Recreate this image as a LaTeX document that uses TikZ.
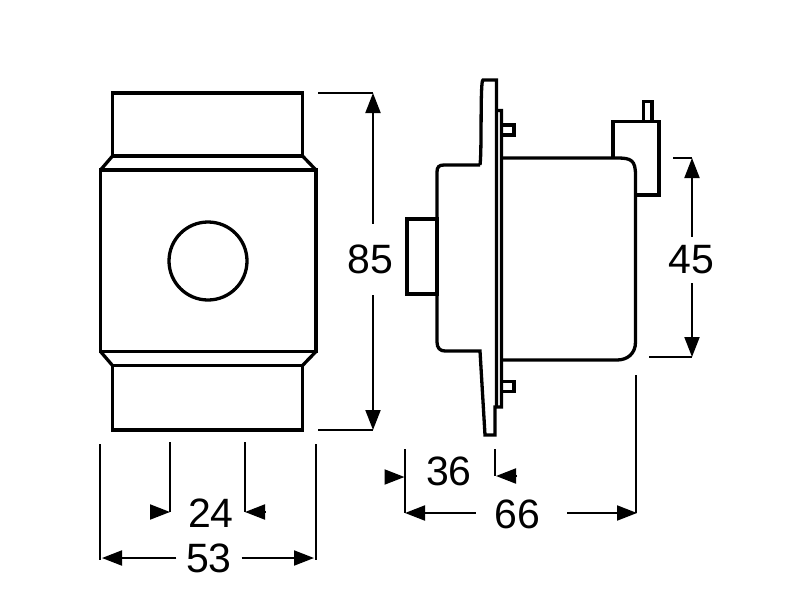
\documentclass[tikz,border=0pt]{standalone}
\usepackage{fontspec}
\setmainfont{Liberation Sans}
\usetikzlibrary{arrows.meta}
\tikzset{
	outline/.style={line width=3.3pt, line join=miter},
	dimline/.style={line width=2pt},
	dimarrow/.style={line width=2pt, -{Triangle[length=20pt,width=15pt]}},
	dimlabel/.style={inner sep=0pt, font=\fontsize{41}{45}\selectfont}
}
\begin{document}
\begin{tikzpicture}[x=1pt, y=-1pt]
	\useasboundingbox (0,0) rectangle (800,600);
	% front view
	\begin{scope}[outline]
		\draw (112.5,93) rectangle (302.5,156);
		\draw (112.5,365.5) rectangle (302.5,430);
		\draw (100.5,170) rectangle (316,351.5);
		\foreach \xOuter/\xInner in {100.5/112.5, 316/302.5}
		{
			\draw (\xOuter,170) -- (\xInner,156);
			\draw (\xOuter,351.5) -- (\xInner,365.5);
		}
		\draw (208,261) circle (39);
	\end{scope}
	% side view
	\begin{scope}[outline]
		\draw (407,219) rectangle (437,294);
		\draw (480,165) -- ++(-36,0) .. controls (439,165) and (437,167) .. (437,172) -- (437,342) .. controls (437,348) and (440,351) .. (445,351) -- (480,351) -- (485,435) -- (495,435) -- (495,407) -- (501.5,407) -- (501.5,110.5) -- (496.5,110.5);
		\draw (480,165) .. controls (482,150) and (480,80) .. (483,80) -- (496.5,80) -- (496.5,407);
		\foreach \yPin in {125, 381.5}
		{
			\draw (501.5,\yPin) rectangle ++(12.5,10);
		}
		\draw (501.5,158) -- (617,158) .. controls (631,158) and (635.5,160) .. (635.5,175) -- (635.5,342) .. controls (635.5,354) and (627,360) .. (617,360) -- (501.5,360);
		\draw (613,158) -- (613,121.5) -- (659,121.5) -- (659,195) -- (635.5,195);
		\draw (643.5,121.5) -- (643.5,101.5) -- (652,101.5) -- (652,121.5);
	\end{scope}
	% free ends of the dimension lines
	\foreach \ptName/\xCoord/\yCoord in {
		top85a/318/93, top85b/373/93, bot85a/318/430, bot85b/373/430,
		top45a/673/158, top45b/692/158, bot45a/649/357, bot45b/692/357,
		ext24a/170/442, tip24a/170/512, tail24a/150/512,
		ext24b/245/442, tip24b/245/512, tail24b/266/512,
		ext53a/100/444, end53a/100/560, tip53a/102/558,
		ext53b/316/444, end53b/316/560, tip53b/314/558,
		ext36a/404.5/449, end36a/404.5/513, tip36a/404.5/477, tail36a/386/477,
		ext36b/495/449, end36b/495/476, tip36b/496/476, tail36b/517/476,
		tip66a/405/513, ext66b/636/375, end66b/636/513, tip66b/637/513}
	{
		\coordinate (\ptName) at (\xCoord,\yCoord);
	}
	% labels
	\node[dimlabel, minimum height=71pt] (lblA) at (370.5,259.5) {85};
	\node[dimlabel, minimum height=46pt] (lblB) at (691.5,260) {45};
	\node[dimlabel] (lblC) at (211,513) {24};
	\node[dimlabel, minimum width=65pt] (lblD) at (209,558.5) {53};
	\node[dimlabel] (lblE) at (449,471) {36};
	\node[dimlabel, minimum width=82pt] (lblF) at (517,514.5) {66};
	% dimension lines
	\draw[dimline] (top85a) -- (top85b);
	\draw[dimline] (bot85a) -- (bot85b);
	\draw[dimarrow] (lblA.north -| top85b) -- (top85b);
	\draw[dimarrow] (lblA.south -| bot85b) -- (bot85b);
	\draw[dimline] (top45a) -- (top45b);
	\draw[dimline] (bot45a) -- (bot45b);
	\draw[dimarrow] (lblB.north -| top45b) -- (top45b);
	\draw[dimarrow] (lblB.south -| bot45b) -- (bot45b);
	\foreach \pairA/\pairB in {ext24a/tip24a, ext24b/tip24b, ext53a/end53a, ext53b/end53b, ext36a/end36a, ext36b/end36b, ext66b/end66b}
	{
		\draw[dimline] (\pairA) -- (\pairB);
	}
	\foreach \pairA/\pairB in {tail24a/tip24a, tail24b/tip24b, tail36a/tip36a, tail36b/tip36b}
	{
		\draw[dimarrow] (\pairA) -- (\pairB);
	}
	\draw[dimarrow] (lblD.west |- tip53a) -- (tip53a);
	\draw[dimarrow] (lblD.east |- tip53b) -- (tip53b);
	\draw[dimarrow] (lblF.west |- tip66a) -- (tip66a);
	\draw[dimarrow, shorten <=9pt] (lblF.east |- tip66b) -- (tip66b);
\end{tikzpicture}
\end{document}
